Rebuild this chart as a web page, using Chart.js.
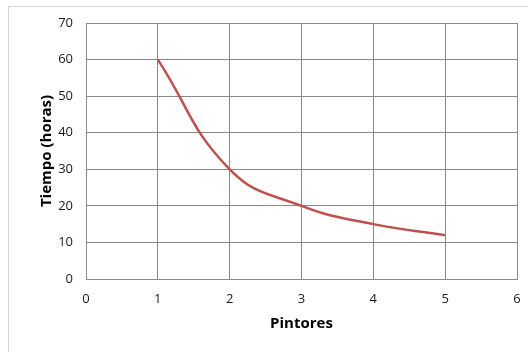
<!DOCTYPE html>
<html>
<head>
<meta charset="utf-8">
<script src="https://cdn.jsdelivr.net/npm/chart.js@4"></script>
<style>
html,body{margin:0;padding:0;background:#fff;overflow:hidden;}
#frame{position:absolute;left:8px;top:6px;width:600px;height:400px;border:1px solid #d4d4d4;}
#wrap{position:absolute;left:0;top:0;width:528px;height:352px;}
</style>
</head>
<body>
<div id="frame"></div>
<div id="wrap"><canvas id="c" width="528" height="352"></canvas></div>
<script>
const pintores = [1, 2, 3, 4, 5];
const horas = [60, 30, 20, 15, 12];
const xTitle = "Pintores";
const yTitle = "Tiempo (horas)";

const points = pintores.map((x, i) => ({x: x, y: horas[i]}));
const grid = '#8a8a8a';
const font = "'Open Sans', 'Liberation Sans', sans-serif";

new Chart(document.getElementById('c'), {
  type: 'scatter',
  data: {
    datasets: [{
      data: points,
      showLine: true,
      borderColor: '#C0504D',
      borderWidth: 2.5,
      pointRadius: 0,
      tension: 0.45,
      fill: false
    }]
  },
  options: {
    responsive: false,
    animation: false,
    layout: {padding: {left: 34, top: 23, right: 11, bottom: 15}},
    plugins: {legend: {display: false}, tooltip: {enabled: false}},
    scales: {
      x: {
        type: 'linear', min: 0, max: 6,
        ticks: {stepSize: 1, color: '#1a1a1a', font: {family: font, size: 13}, padding: 12},
        grid: {color: grid, lineWidth: 1, drawTicks: false},
        border: {color: grid, width: 1},
        title: {display: true, text: xTitle, color: '#000', font: {family: font, size: 15, weight: 'bold'}, padding: {top: 4, bottom: 4}},
        afterFit: s => { s.height = 58; s.paddingLeft = 0; s.paddingRight = 0; }
      },
      y: {
        min: 0, max: 70,
        ticks: {stepSize: 10, color: '#1a1a1a', font: {family: font, size: 13}, padding: 13},
        grid: {color: grid, lineWidth: 1, drawTicks: false},
        border: {color: grid, width: 1},
        title: {display: true, text: yTitle, color: '#000', font: {family: font, size: 15, weight: 'bold'}, padding: {top: 4, bottom: 4}},
        afterFit: s => { s.width = 52; s.paddingTop = 0; s.paddingBottom = 0; }
      }
    }
  }
});
</script>
</body>
</html>
